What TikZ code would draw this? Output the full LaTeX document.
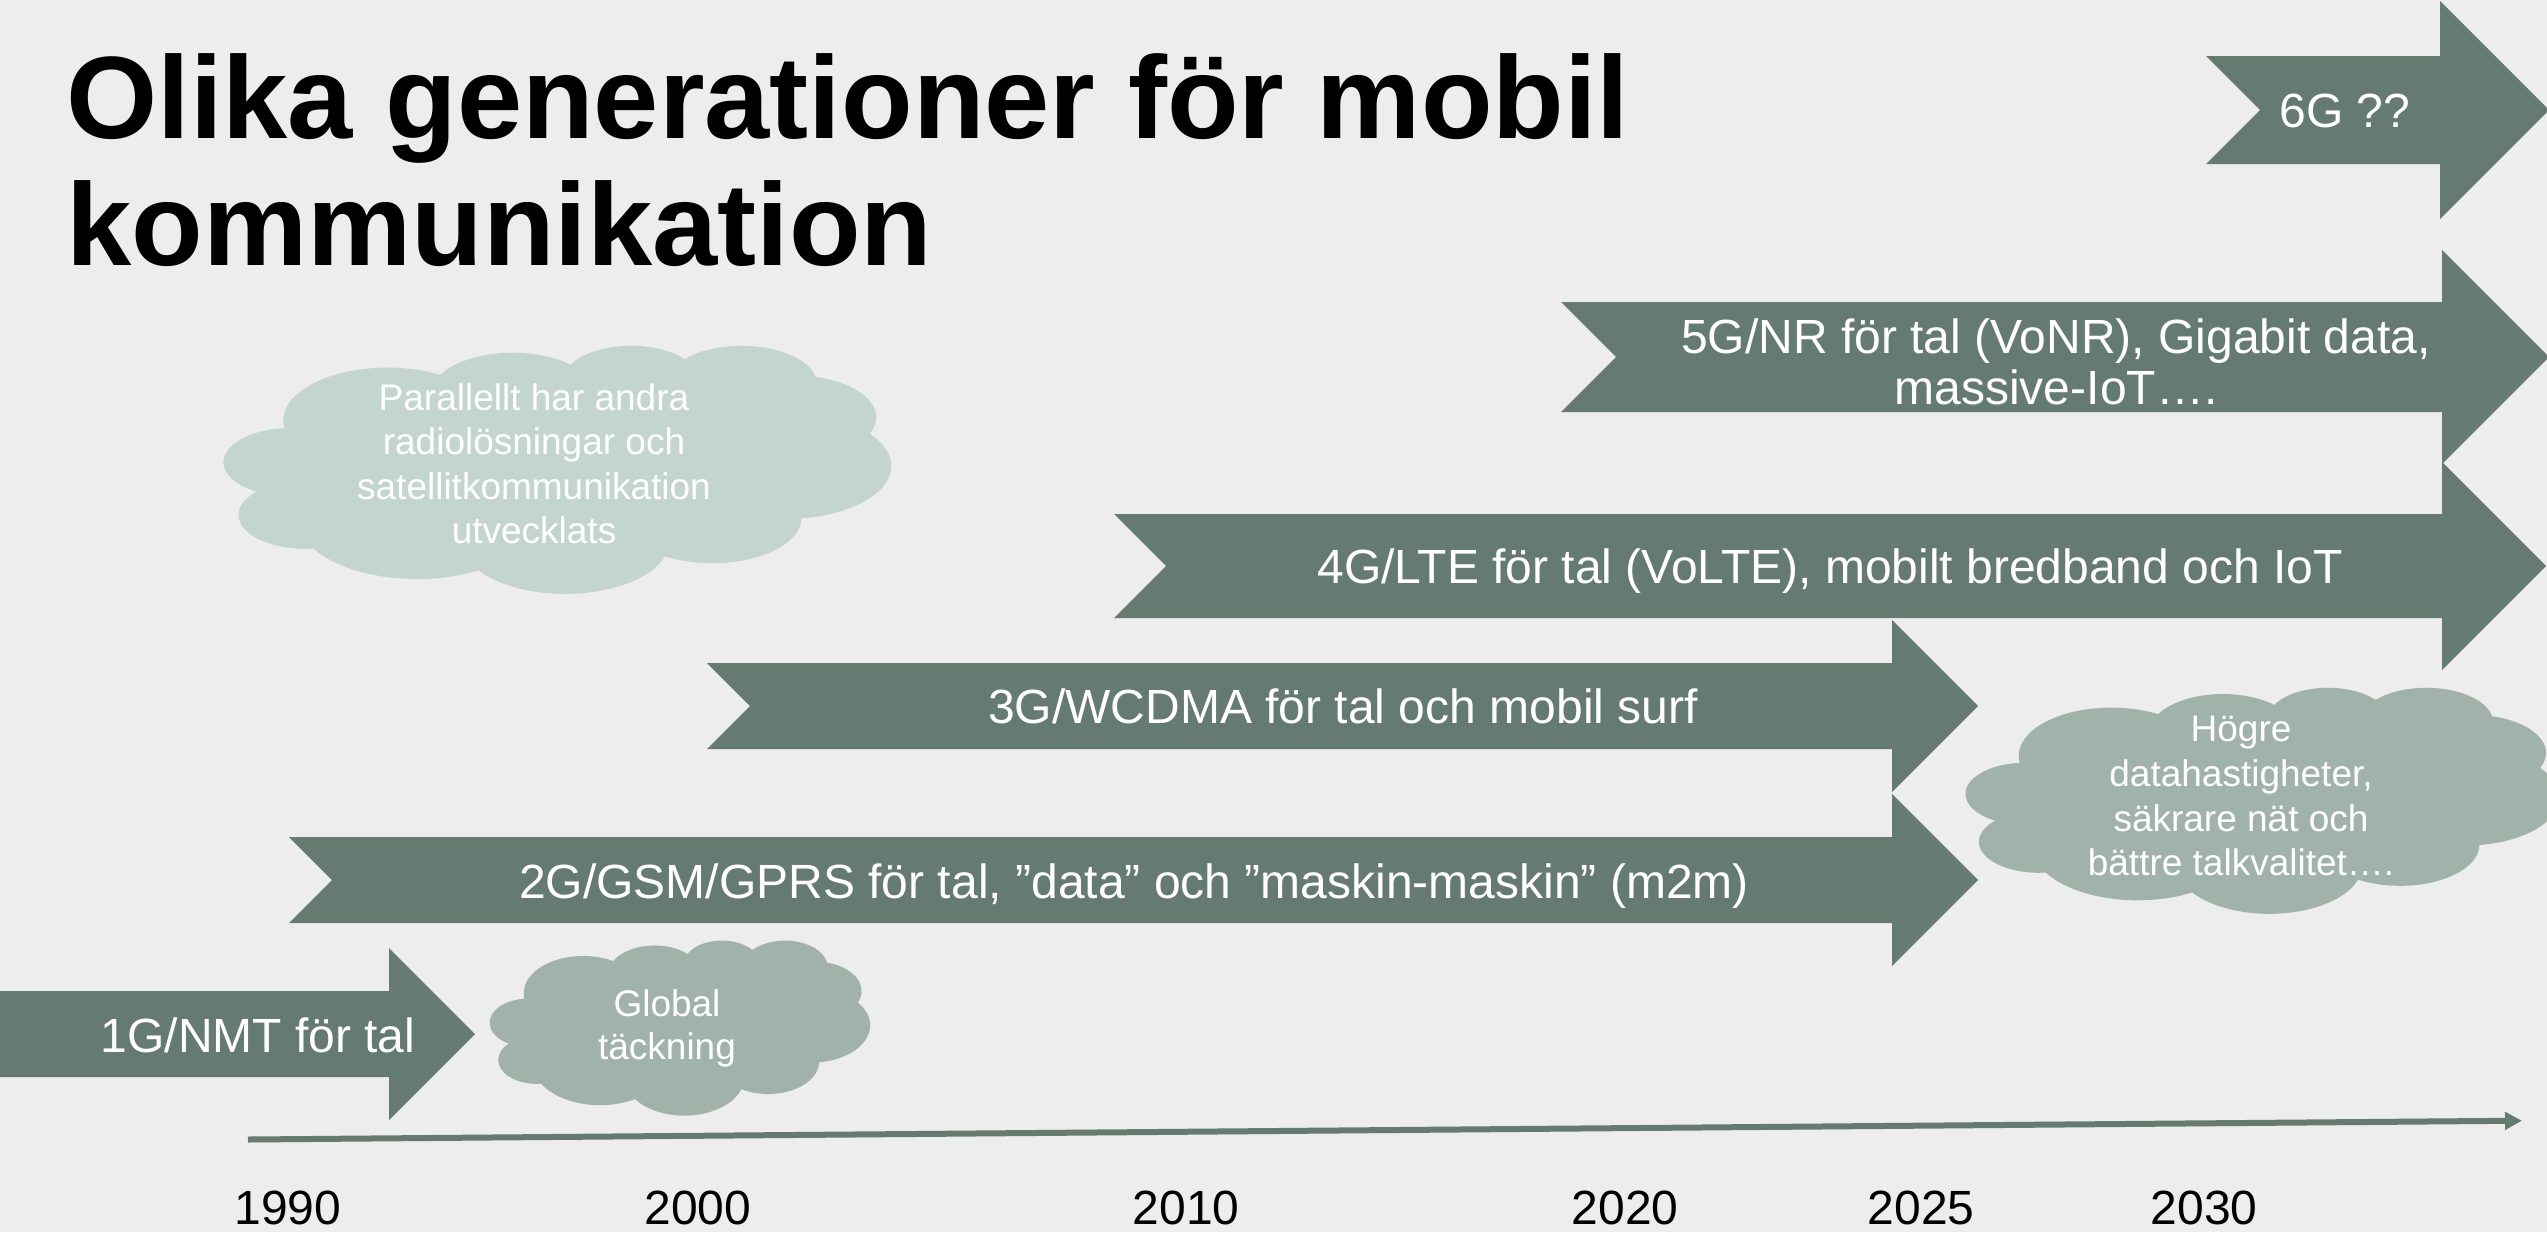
\documentclass[tikz,border=0pt]{standalone}
\usepackage{fontspec}
\setmainfont{Liberation Sans}
\usetikzlibrary{arrows.meta}
\definecolor{bgc}{HTML}{EDEDED}
\definecolor{arrowc}{HTML}{657A70}
\definecolor{cloudlight}{HTML}{C4D5CF}
\definecolor{cloudmid}{HTML}{A1B2AA}
% notched arrow: #1 left x, #2 notch depth, #3 head base x, #4 centre y, #5 body half height, #6 head half height
\newcommand\GenArrow[6]{%
  \fill[genfill] (#1,#4-#5) -- (#3,#4-#5) -- (#3,#4-#6) -- (#3+#6,#4) -- (#3,#4+#6)
    -- (#3,#4+#5) -- (#1,#4+#5) -- (#1+#2,#4) -- cycle;}
% PowerPoint-like cloud in a box: #1 x0, #2 y0, #3 w, #4 h, #5 colour
\newcommand\PPTCloud[5]{%
  \begin{scope}[shift={(#1,#2)},xscale=#3/100,yscale=#4/100]
  \fill[#5] (9.0278,33.264)
    arc[start angle=172.25,end angle=300.37,x radius=15.632,y radius=21.273]
    arc[start angle=-152.04,end angle=-45.44,x radius=12.345,y radius=16.822]
    arc[start angle=-153.50,end angle=-37.35,x radius=10.104,y radius=13.762]
    arc[start angle=-139.70,end angle=-10.21,x radius=11.243,y radius=15.266]
    arc[start angle=-74.77,end angle=23.21,x radius=12.345,y radius=16.836]
    arc[start angle=-37.52,end angle=81.86,x radius=15.683,y radius=21.343]
    arc[start angle=0.46,end angle=121.97,x radius=13.391,y radius=18.211]
    arc[start angle=16.84,end angle=146.23,x radius=15.630,y radius=21.331]
    arc[start angle=58.98,end angle=150.20,x radius=17.870,y radius=24.405]
    arc[start angle=83.31,end angle=223.08,x radius=10.093,y radius=13.699]
    arc[start angle=120.35,end angle=264.11,x radius=10.058,y radius=13.762]
    -- cycle;
  \end{scope}}
\begin{document}
\begin{tikzpicture}[x=0.5pt,y=-0.5pt,
  genfill/.style={fill=arrowc},
  arrtext/.style={text=white,inner sep=0pt,anchor=base,font=\fontsize{24pt}{28pt}\selectfont},
  cloudtext/.style={text=white,inner sep=0pt,anchor=base,font=\fontsize{18.5pt}{22pt}\selectfont},
  yeartext/.style={text=black,inner sep=0pt,anchor=base,font=\fontsize{24pt}{28pt}\selectfont},
  titletext/.style={text=black,inner sep=0pt,anchor=base west,font=\fontsize{58.6pt}{63pt}\selectfont\bfseries},
  axisline/.style={draw=arrowc,line width=3pt,-{Triangle[length=8.5pt,width=8.5pt]}}]
\useasboundingbox (0,0) rectangle (2547,1232);
\fill[bgc] (0,0) rectangle (2547,1232);
\begin{scope}
\clip (0,0) rectangle (2547,1232);
% title
\node[titletext] (title1) at (66,138) {Olika generationer för mobil};
\node[titletext] (title2) at (66,265) {kommunikation};
% generation arrows
\GenArrow{-20}{0}{389}{1034}{43}{86}
\GenArrow{289}{43}{1892}{880}{43}{86}
\GenArrow{707}{43}{1892}{706}{43}{86}
\GenArrow{1114}{52}{2442}{566}{52}{104}
\GenArrow{1561}{55}{2442}{357}{55}{107}
\GenArrow{2206}{54}{2440}{110}{54}{109}
\node[arrtext] (g1) at (258,1052) {1G/NMT för tal};
\node[arrtext] (g2) at (1134,898) {2G/GSM/GPRS för tal, ”data” och ”maskin-maskin” (m2m)};
\node[arrtext] (g3) at (1343,723) {3G/WCDMA för tal och mobil surf};
\node[arrtext] (g4) at (1830,583) {4G/LTE för tal (VoLTE), mobilt bredband och IoT};
\node[arrtext] (g5a) at (2056,353) {5G/NR för tal (VoNR), Gigabit data,};
\node[arrtext] (g5b) at (2056,404) {massive-IoT….};
\node[arrtext] (g6) at (2345,127) {6G ??};
% clouds
\PPTCloud{224}{345}{667}{248}{cloudlight}
\PPTCloud{490}{940}{380}{175}{cloudmid}
\PPTCloud{1966}{687}{593}{226}{cloudmid}
\node[cloudtext] (c1a) at (534,410) {Parallellt har andra};
\node[cloudtext] (c1b) at (534,454) {radiolösningar och};
\node[cloudtext] (c1c) at (534,499) {satellitkommunikation};
\node[cloudtext] (c1d) at (534,543) {utvecklats};
\node[cloudtext] (c2a) at (667,1016) {Global};
\node[cloudtext] (c2b) at (667,1059) {täckning};
\node[cloudtext] (c3a) at (2241,741) {Högre};
\node[cloudtext] (c3b) at (2241,786) {datahastigheter,};
\node[cloudtext] (c3c) at (2241,831) {säkrare nät och};
\node[cloudtext] (c3d) at (2241,875) {bättre talkvalitet….};
% time axis
\coordinate (axS) at (248,1139.5);
\coordinate (axE) at (2522,1120.7);
\draw[axisline] (axS) -- (axE);
\node[yeartext] (y1990) at (288,1224) {1990};
\node[yeartext] (y2000) at (698,1224) {2000};
\node[yeartext] (y2010) at (1186,1224) {2010};
\node[yeartext] (y2020) at (1625,1224) {2020};
\node[yeartext] (y2025) at (1921,1224) {2025};
\node[yeartext] (y2030) at (2204,1224) {2030};
\end{scope}
\end{tikzpicture}
\end{document}
